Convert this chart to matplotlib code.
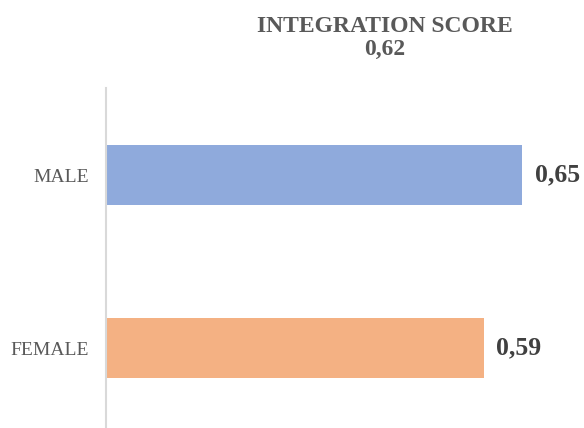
import matplotlib.pyplot as plt

categories = ["FEMALE", "MALE"]
scores = [0.59, 0.65]
bar_colors = ["#f4b183", "#8faadc"]
overall = "0,62"

plt.rcParams['font.family'] = ['Liberation Serif', 'DejaVu Serif']

fig = plt.figure(figsize=(5.84, 4.28), dpi=100)
ax = fig.add_axes([106 / 584, 0, 448 / 584, 340 / 428])

ax.barh(range(len(categories)), scores, height=0.347, color=bar_colors)
ax.set_xlim(0, 0.7)
ax.set_ylim(-0.462, 1.503)

ax.set_yticks(range(len(categories)))
ax.set_yticklabels(categories, fontsize=14, color="#595959")
ax.tick_params(axis='y', length=0, pad=12)
ax.set_xticks([])

for s in ["top", "right", "bottom"]:
    ax.spines[s].set_visible(False)
ax.spines["left"].set_color("#d9d9d9")
ax.spines["left"].set_linewidth(1.5)

for i, v in enumerate(scores):
    ax.annotate(f"{v:.2f}".replace(".", ","), (v, i), xytext=(9, 0),
                textcoords="offset points", va="center", ha="left",
                fontsize=18.5, fontweight="bold", color="#404040")

fig.text(385 / 584, 1 - 16 / 428, "INTEGRATION SCORE\n" + overall,
         ha="center", va="top", fontsize=17, fontweight="bold",
         color="#595959", linespacing=1.12)

fig.savefig("out.png", dpi=100)
